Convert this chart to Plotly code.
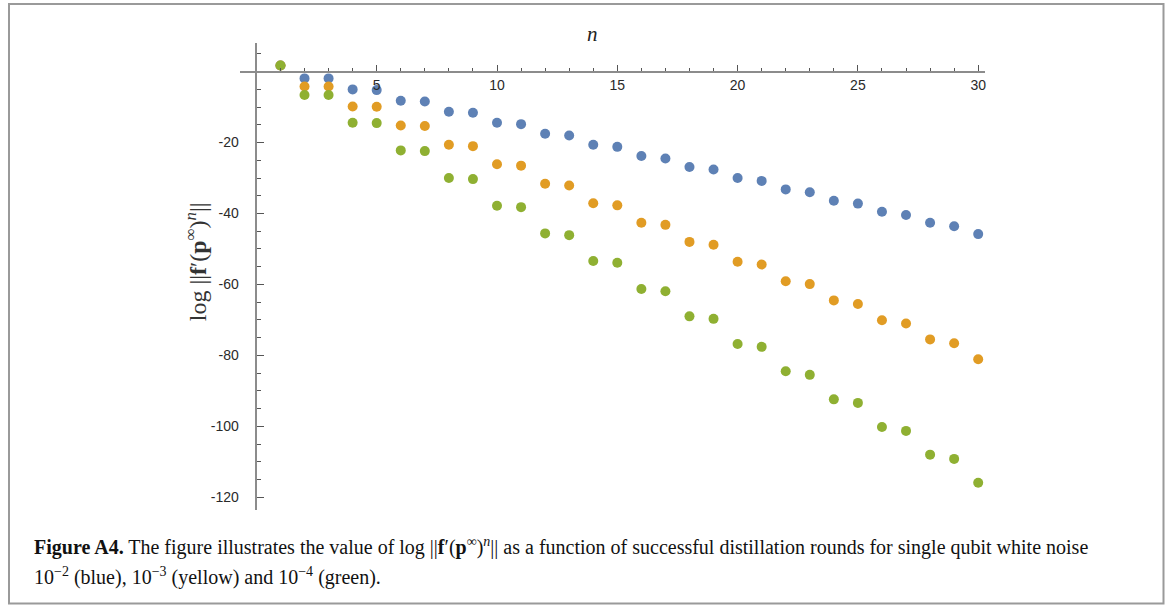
import plotly.graph_objects as go

n_vals = list(range(1, 31))
blue = [1.75, -1.9, -1.9, -5.0, -5.2, -8.2, -8.4, -11.3, -11.6, -14.4, -14.8, -17.5, -18.0,
        -20.6, -21.2, -23.8, -24.5, -26.9, -27.6, -30.0, -30.8, -33.2, -34.0, -36.4, -37.2,
        -39.5, -40.4, -42.6, -43.6, -45.8]
orange = [1.75, -4.2, -4.2, -9.8, -9.9, -15.2, -15.3, -20.6, -21.0, -26.1, -26.5, -31.6, -32.1,
          -37.1, -37.7, -42.6, -43.2, -48.0, -48.8, -53.6, -54.4, -59.1, -59.9, -64.5, -65.5,
          -70.1, -71.0, -75.5, -76.6, -81.1]
green = [1.75, -6.6, -6.6, -14.4, -14.5, -22.2, -22.4, -30.0, -30.3, -37.8, -38.2, -45.6, -46.1,
         -53.4, -53.9, -61.3, -61.9, -69.0, -69.7, -76.8, -77.6, -84.5, -85.5, -92.4, -93.4,
         -100.2, -101.3, -108.0, -109.2, -115.9]

x_tickvals = [5, 10, 15, 20, 25, 30]
x_ticktext = ["5", "10", "15", "20", "25", "30"]
y_tickvals = [-120, -100, -80, -60, -40, -20]
y_ticktext = ["-120", "-100", "-80", "-60", "-40", "-20"]

series = [("blue", blue, "#5E81B5"), ("yellow", orange, "#E19C24"), ("green", green, "#8FB032")]

W, H = 1171, 608
L, R, T, B = 240, 985, 42.5, 510
x0_px, x_scale = 256.4, 24.06
y0_px, y_scale = 71.2, 3.55
xmin = (L - x0_px) / x_scale
xmax = (R - x0_px) / x_scale
ymin = (y0_px - B) / y_scale
ymax = (y0_px - T) / y_scale


def px(xp):
    return (xp - L) / (R - L)


def py(yp):
    return (B - yp) / (B - T)


fig = go.Figure()
for name, vals, col in series:
    fig.add_trace(go.Scatter(x=n_vals, y=vals, mode="markers", name=name,
                             marker=dict(size=10, color=col, line=dict(width=0)),
                             showlegend=False))

axis_line = "#8c8c8c"
tick_col = "#555555"
tick_font = dict(family="Liberation Sans, Arial, sans-serif", size=14, color="#2a2a2a")

fig.update_layout(
    width=W, height=H,
    margin=dict(l=L, r=W - R, t=T, b=H - B, pad=0),
    paper_bgcolor="white", plot_bgcolor="white",
    xaxis=dict(range=[xmin, xmax], anchor="free", position=(0 - ymin) / (ymax - ymin),
               side="bottom", showgrid=False, zeroline=False,
               showline=True, linecolor=axis_line, linewidth=1.5,
               ticks="inside", ticklen=6, tickwidth=1, tickcolor=tick_col,
               tickvals=x_tickvals, ticktext=x_ticktext, tickfont=tick_font,
               ticklabelstandoff=1,
               minor=dict(tickvals=[v for v in range(1, 31) if v % 5], ticks="inside",
                          ticklen=3, tickcolor=tick_col, showgrid=False)),
    yaxis=dict(range=[ymin, ymax], anchor="free", position=(0 - xmin) / (xmax - xmin),
               side="left", showgrid=False, zeroline=False,
               showline=True, linecolor=axis_line, linewidth=1.5,
               ticks="inside", ticklen=7, tickwidth=1, tickcolor=tick_col,
               tickvals=y_tickvals, ticktext=y_ticktext, tickfont=tick_font,
               ticklabelstandoff=14,
               minor=dict(tickvals=[v for v in range(-120, 10, 5) if v % 20 and v != 0],
                          ticks="inside", ticklen=4, tickcolor=tick_col, showgrid=False)),
)

# outer border
fig.add_shape(type="rect", xref="paper", yref="paper",
              x0=px(9), x1=px(1163.5), y0=py(603.5), y1=py(3.5),
              line=dict(color="#9a9a9a", width=2), fillcolor="rgba(0,0,0,0)", layer="below")

serif = "Liberation Serif, DejaVu Serif, serif"

# axis labels
fig.add_annotation(xref="paper", yref="paper", x=px(592), y=py(33), text="<i>n</i>",
                   showarrow=False, font=dict(family=serif, size=21, color="#222"),
                   xanchor="center", yanchor="middle")
fig.add_annotation(xref="paper", yref="paper", x=px(196), y=py(262),
                   text="log ||<b>f</b>′(<b>p</b><sup>∞</sup>)<sup><i>n</i></sup>||",
                   showarrow=False, textangle=-90,
                   font=dict(family=serif, size=24, color="#333"),
                   xanchor="center", yanchor="middle")

# caption
cap1 = ("<b>Figure A4.</b> The figure illustrates the value of log ||<b>f</b>′(<b>p</b><sup>∞</sup>)<sup><i>n</i></sup>|| "
        "as a function of successful distillation rounds for single qubit white noise")
cap2 = "10<sup>−2</sup> (blue), 10<sup>−3</sup> (yellow) and 10<sup>−4</sup> (green)."
fig.add_annotation(xref="paper", yref="paper", x=px(32), y=py(547), text=cap1,
                   showarrow=False, xanchor="left", yanchor="middle", align="left",
                   font=dict(family=serif, size=20, color="#111"))
fig.add_annotation(xref="paper", yref="paper", x=px(32), y=py(577), text=cap2,
                   showarrow=False, xanchor="left", yanchor="middle", align="left",
                   font=dict(family=serif, size=20, color="#111"))

fig.write_html("out.html")
